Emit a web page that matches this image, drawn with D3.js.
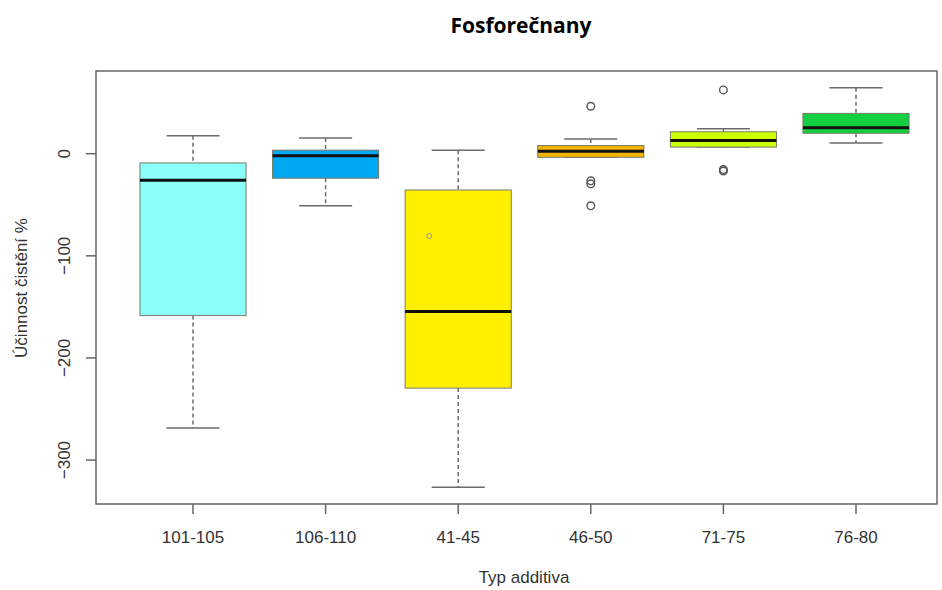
<!DOCTYPE html>
<html><head><meta charset="utf-8">
<script src="https://cdn.jsdelivr.net/npm/d3@7"></script>
<style>body{margin:0;background:#fff}svg{display:block}</style>
</head><body>
<svg id="c" width="942" height="590"></svg>
<script>
const categories = ["101-105","106-110","41-45","46-50","71-75","76-80"];
const whiskerHigh = [17, 15, 3, 14, 24, 64];
const q3          = [-9.5, 3, -36, 7.5, 21, 39];
const median      = [-26.5, -2.5, -155, 2, 12.5, 25];
const q1          = [-159, -24.5, -230, -4, 6, 19.5];
const whiskerLow  = [-269, -51.5, -327, -4, 6, 10];
const outliers    = [[], [], [-81], [46, -27, -30, -51.5], [62, -16, -17.5], []];
const colors = ["#8CFFFA","#00A8F0","#FFF000","#F2B400","#CCFF00","#12D040"];
const yTicks = [0, -100, -200, -300];

const svg = d3.select("#c");
const L = 96, R = 937, T = 71, B = 504;
const y = d3.scaleLinear().domain([-343.5, 80.5]).range([B, T]);
const x = d3.scaleBand().domain(categories).range([126.7, 922.3]).paddingInner(0).paddingOuter(0);
const bw = x.bandwidth() * 0.8;
const grey = "#6b6b6b";
const FONT = "Liberation Sans, Arial, sans-serif";

// title
svg.append("text").attr("x", 521).attr("y", 33).attr("text-anchor", "middle")
  .attr("font-family", "Open Sans, sans-serif").attr("font-weight", "bold").attr("font-size", 21)
  .text("Fosforečnany");

// boxes
categories.forEach((c, i) => {
  const cx = x(c) + x.bandwidth() / 2;
  const g = svg.append("g");
  g.append("line").attr("x1", cx).attr("x2", cx).attr("y1", y(whiskerHigh[i])).attr("y2", y(q3[i]))
    .attr("stroke", grey).attr("stroke-width", 1.5).attr("stroke-dasharray", "4,3");
  g.append("line").attr("x1", cx).attr("x2", cx).attr("y1", y(q1[i])).attr("y2", y(whiskerLow[i]))
    .attr("stroke", grey).attr("stroke-width", 1.5).attr("stroke-dasharray", "4,3");
  [whiskerHigh[i], whiskerLow[i]].forEach(v => {
    g.append("line").attr("x1", cx - bw / 4).attr("x2", cx + bw / 4).attr("y1", y(v)).attr("y2", y(v))
      .attr("stroke", grey).attr("stroke-width", 1.5);
  });
  g.append("rect").attr("x", cx - bw / 2).attr("width", bw)
    .attr("y", y(q3[i])).attr("height", y(q1[i]) - y(q3[i]))
    .attr("fill", colors[i]).attr("stroke", "#7a7a6a").attr("stroke-width", 1);
  g.append("line").attr("x1", cx - bw / 2).attr("x2", cx + bw / 2).attr("y1", y(median[i])).attr("y2", y(median[i]))
    .attr("stroke", "#111").attr("stroke-width", 3);
  outliers[i].forEach(v => {
    const small = i === 2;
    g.append("circle").attr("cx", small ? cx - 29 : cx).attr("cy", y(v)).attr("r", small ? 2.5 : 3.8)
      .attr("fill", "none").attr("stroke", small ? "#999" : "#555").attr("stroke-width", small ? 1 : 1.4);
  });
});

// frame
svg.append("rect").attr("x", L).attr("y", T).attr("width", R - L).attr("height", B - T)
  .attr("fill", "none").attr("stroke", "#666").attr("stroke-width", 1.5);

// y axis
const ya = svg.append("g").attr("transform", `translate(${L},0)`)
  .call(d3.axisLeft(y).tickValues(yTicks).tickSize(10).tickFormat(d3.format("d")));
ya.select(".domain").remove();
ya.selectAll(".tick line").attr("stroke", "#666").attr("stroke-width", 1.5);
ya.selectAll(".tick text").attr("font-family", FONT).attr("font-size", 17)
  .attr("fill", "#333").attr("text-anchor", "middle")
  .attr("transform", "translate(-32,0) rotate(-90)").attr("x", 0).attr("y", 0).attr("dy", "0.35em");

// x axis
const xa = svg.append("g").attr("transform", `translate(0,${B})`)
  .call(d3.axisBottom(x).tickSize(10));
xa.select(".domain").remove();
xa.selectAll(".tick line").attr("stroke", "#666").attr("stroke-width", 1.5);
xa.selectAll(".tick text").attr("font-family", FONT).attr("font-size", 17).attr("fill", "#333")
  .attr("y", 39).attr("dy", 0);

// axis titles
svg.append("text").attr("x", 524).attr("y", 583).attr("text-anchor", "middle")
  .attr("font-family", FONT).attr("font-size", 17).attr("fill", "#333")
  .text("Typ additiva");
svg.append("text").attr("transform", "translate(27,288) rotate(-90)").attr("text-anchor", "middle")
  .attr("font-family", FONT).attr("font-size", 17).attr("fill", "#333")
  .text("Účinnost čistění %");
</script>
</body></html>
